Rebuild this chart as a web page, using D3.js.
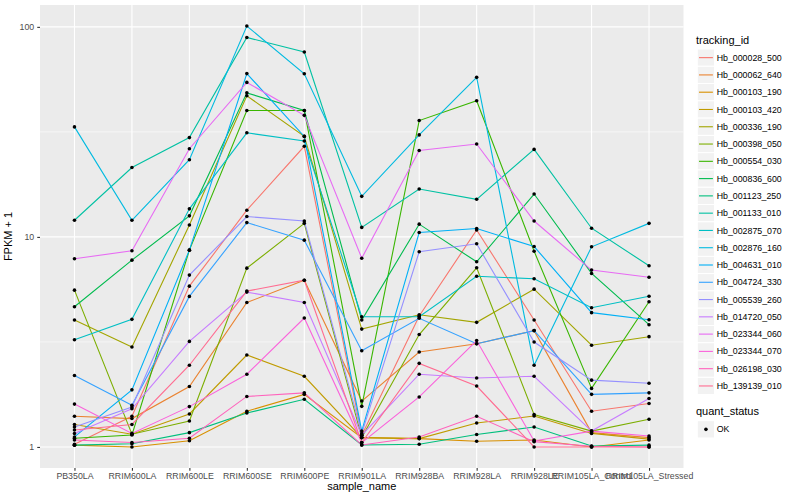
<!DOCTYPE html>
<html>
<head>
<meta charset="utf-8">
<script src="https://cdn.jsdelivr.net/npm/d3@7"></script>
<style>
  body { margin: 0; background: #fff; }
  svg text { font-family: "Liberation Sans", Arial, sans-serif; }
</style>
</head>
<body>
<svg id="chart" width="800" height="500"></svg>
<script>
// samples on the x axis
const samples = ["PB350LA", "RRIM600LA", "RRIM600LE", "RRIM600SE", "RRIM600PE", "RRIM901LA",
  "RRIM928BA", "RRIM928LA", "RRIM928LE", "RRIM105LA_Control", "RRIM105LA_Stressed"];

// FPKM + 1 per tracking id, one value per sample
const hb_000028_500 = [1.03, 1.40, 5.83, 13.4, 27.0, 1.137, 4.2, 10.8, 4.02, 1.48, 1.61];
const hb_000062_640 = [1.40, 1.365, 1.94, 4.87, 6.22, 1.654, 2.83, 3.10, 3.58, 1.17, 1.108];
const hb_000103_190 = [1.02, 1.0, 1.07, 1.48, 1.78, 1.108, 1.096, 1.064, 1.08, 1.0, 1.08];
const hb_000103_420 = [1.28, 1.15, 1.436, 2.74, 2.17, 1.108, 1.096, 1.30, 1.404, 1.16, 1.09];
const hb_000336_190 = [4.02, 2.99, 11.4, 47.0, 30.1, 3.64, 4.26, 3.92, 5.64, 3.05, 3.35];
const hb_000398_050 = [5.58, 1.15, 1.33, 7.1, 11.6, 1.108, 3.43, 7.13, 1.426, 1.19, 1.354];
const hb_000554_030 = [1.10, 1.14, 8.65, 40.0, 40.0, 1.561, 35.8, 44.5, 8.55, 1.90, 4.91];
const hb_000836_600 = [4.65, 7.75, 12.6, 48.5, 40.0, 4.02, 11.5, 7.61, 16.0, 6.70, 3.82];
const hb_001123_250 = [1.02, 1.035, 1.17, 1.45, 1.686, 1.022, 1.03, 1.146, 1.245, 1.01, 1.02];
const hb_001133_010 = [12.0, 21.4, 29.7, 89.0, 75.9, 11.1, 16.9, 15.1, 26.1, 11.0, 7.29];
const hb_002875_070 = [3.24, 4.05, 13.6, 31.3, 28.6, 4.17, 4.17, 6.50, 6.32, 4.60, 5.22];
const hb_002876_160 = [33.4, 12.0, 23.3, 100.9, 59.8, 15.6, 30.6, 57.5, 2.45, 8.97, 11.6];
const hb_004631_010 = [1.116, 1.87, 8.65, 59.9, 30.1, 1.19, 10.5, 10.96, 9.0, 4.36, 4.03];
const hb_004724_330 = [2.19, 1.58, 5.21, 11.7, 9.65, 2.87, 4.1, 3.10, 3.58, 1.78, 1.81];
const hb_005539_260 = [1.245, 1.55, 6.58, 12.5, 11.9, 1.16, 8.5, 9.27, 3.16, 2.08, 2.01];
const hb_014720_050 = [1.158, 1.52, 3.18, 5.46, 4.87, 1.137, 2.22, 2.13, 2.17, 1.19, 1.70];
const hb_023344_060 = [7.87, 8.59, 26.3, 54.4, 37.9, 7.92, 25.8, 27.7, 11.9, 6.95, 6.43];
const hb_023344_070 = [1.60, 1.16, 1.556, 2.22, 4.11, 1.049, 1.73, 3.21, 1.068, 1.19, 1.128];
const hb_026198_030 = [1.08, 1.05, 1.10, 1.74, 1.81, 1.022, 1.116, 1.40, 1.06, 1.008, 1.0];
const hb_139139_010 = [1.205, 1.28, 2.45, 5.52, 6.22, 1.049, 2.50, 1.95, 1.0, 1.0, 1.0];

const trackingIds = ["Hb_000028_500", "Hb_000062_640", "Hb_000103_190", "Hb_000103_420",
  "Hb_000336_190", "Hb_000398_050", "Hb_000554_030", "Hb_000836_600", "Hb_001123_250",
  "Hb_001133_010", "Hb_002875_070", "Hb_002876_160", "Hb_004631_010", "Hb_004724_330",
  "Hb_005539_260", "Hb_014720_050", "Hb_023344_060", "Hb_023344_070", "Hb_026198_030",
  "Hb_139139_010"];
const seriesValues = [hb_000028_500, hb_000062_640, hb_000103_190, hb_000103_420, hb_000336_190,
  hb_000398_050, hb_000554_030, hb_000836_600, hb_001123_250, hb_001133_010, hb_002875_070,
  hb_002876_160, hb_004631_010, hb_004724_330, hb_005539_260, hb_014720_050, hb_023344_060,
  hb_023344_070, hb_026198_030, hb_139139_010];

// ggplot hue palette, 20 levels
const colours = ["#F8766D", "#EA8331", "#D89000", "#C09B00", "#A3A500", "#7CAE00", "#39B600",
  "#00BB4E", "#00BF7D", "#00C1A3", "#00BFC4", "#00BAE0", "#00B0F6", "#35A2FF", "#9590FF",
  "#C77CFF", "#E76BF3", "#FA62DB", "#FF62BC", "#FF6C91"];

const yTicks = [1, 10, 100];
const yMinor = [Math.sqrt(10), Math.sqrt(1000)];
const statusLevels = ["OK"];

let panel = { left: 40, right: 683.5, top: 5, bottom: 468 };

let series = trackingIds.map((id, i) => ({
  id: id,
  colour: colours[i],
  values: seriesValues[i].map((v, j) => ({ sample: samples[j], value: v }))
}));

let x = d3.scalePoint()
  .domain(samples)
  .range([panel.left, panel.right])
  .padding(0.6);

// log scale with ggplot's 5% expansion
let logExt = d3.extent(seriesValues.flat()).map(Math.log10);
let pad = (logExt[1] - logExt[0]) * 0.05;
let y = d3.scaleLog()
  .domain([Math.pow(10, logExt[0] - pad), Math.pow(10, logExt[1] + pad)])
  .range([panel.bottom, panel.top]);

const svg = d3.select("#chart");

svg.append("rect")
  .attr("x", panel.left).attr("y", panel.top)
  .attr("width", panel.right - panel.left).attr("height", panel.bottom - panel.top)
  .attr("fill", "#EBEBEB");

let grid = svg.append("g").attr("stroke", "#fff");
grid.selectAll(".minor").data(yMinor).join("line")
  .attr("x1", panel.left).attr("x2", panel.right)
  .attr("y1", d => y(d)).attr("y2", d => y(d))
  .attr("stroke-width", 0.55);
grid.selectAll(".majory").data(yTicks).join("line")
  .attr("x1", panel.left).attr("x2", panel.right)
  .attr("y1", d => y(d)).attr("y2", d => y(d))
  .attr("stroke-width", 1.1);
grid.selectAll(".majorx").data(samples).join("line")
  .attr("x1", d => x(d)).attr("x2", d => x(d))
  .attr("y1", panel.top).attr("y2", panel.bottom)
  .attr("stroke-width", 1.1);

let line = d3.line()
  .x(d => x(d.sample))
  .y(d => y(d.value));

svg.append("g")
  .selectAll("path")
  .data(series)
  .join("path")
    .attr("fill", "none")
    .attr("stroke", d => d.colour)
    .attr("stroke-width", 1.1)
    .attr("d", d => line(d.values));

svg.append("g")
  .selectAll("circle")
  .data(series.flatMap(s => s.values))
  .join("circle")
    .attr("cx", d => x(d.sample))
    .attr("cy", d => y(d.value))
    .attr("r", 1.8)
    .attr("fill", "#000");

// axes
let yAxis = svg.append("g")
  .attr("transform", `translate(${panel.left},0)`)
  .call(d3.axisLeft(y).tickValues(yTicks).tickFormat(d3.format("d")).tickSize(2.75).tickPadding(3));
let xAxis = svg.append("g")
  .attr("transform", `translate(0,${panel.bottom})`)
  .call(d3.axisBottom(x).tickSize(2.75).tickPadding(2.2));
[xAxis, yAxis].forEach(a => {
  a.select(".domain").remove();
  a.selectAll(".tick line").attr("stroke", "#333").attr("stroke-width", 1.1);
  a.selectAll(".tick text")
    .attr("fill", "#4D4D4D")
    .style("font-size", "8.8px")
    .style("font-family", "'Liberation Sans', Arial, sans-serif");
});

svg.append("text")
  .attr("x", (panel.left + panel.right) / 2)
  .attr("y", 490)
  .attr("text-anchor", "middle")
  .style("font-size", "11px")
  .text("sample_name");

svg.append("text")
  .attr("transform", `translate(11.5,${(panel.top + panel.bottom) / 2}) rotate(-90)`)
  .attr("text-anchor", "middle")
  .style("font-size", "11px")
  .text("FPKM + 1");

// legends
let keySize = 17.28;
let legendX = 697.3;

svg.append("text")
  .attr("x", 696).attr("y", 43.5)
  .style("font-size", "11px")
  .text("tracking_id");

let keys = svg.append("g")
  .selectAll("g")
  .data(series)
  .join("g")
    .attr("transform", (d, i) => `translate(${legendX},${49 + i * keySize})`);
keys.append("rect")
  .attr("width", keySize).attr("height", keySize)
  .attr("fill", "#F2F2F2").attr("stroke", "#fff");
keys.append("line")
  .attr("x1", 1.7).attr("x2", keySize - 1.7)
  .attr("y1", keySize / 2).attr("y2", keySize / 2)
  .attr("stroke", d => d.colour)
  .attr("stroke-width", 1.1);
keys.append("text")
  .attr("x", 19.4).attr("y", keySize / 2)
  .attr("dy", "0.35em")
  .style("font-size", "8.8px")
  .text(d => d.id);

svg.append("text")
  .attr("x", 696).attr("y", 415)
  .style("font-size", "11px")
  .text("quant_status");

let statusKeys = svg.append("g")
  .selectAll("g")
  .data(statusLevels)
  .join("g")
    .attr("transform", (d, i) => `translate(${legendX},${420.7 + i * keySize})`);
statusKeys.append("rect")
  .attr("width", keySize).attr("height", keySize)
  .attr("fill", "#F2F2F2").attr("stroke", "#fff");
statusKeys.append("circle")
  .attr("cx", keySize / 2).attr("cy", keySize / 2)
  .attr("r", 1.8).attr("fill", "#000");
statusKeys.append("text")
  .attr("x", 19.4).attr("y", keySize / 2)
  .attr("dy", "0.35em")
  .style("font-size", "8.8px")
  .text(d => d);
</script>
</body>
</html>
